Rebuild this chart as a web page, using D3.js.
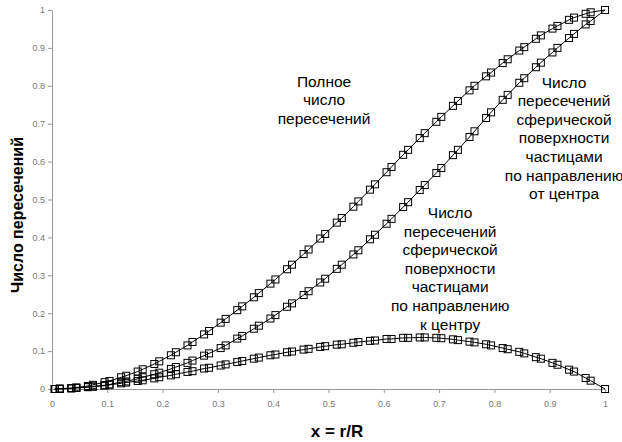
<!DOCTYPE html>
<html>
<head>
<meta charset="utf-8">
<script src="https://cdn.jsdelivr.net/npm/d3@7"></script>
<style>
  body { margin: 0; background: #fff; }
  text { font-family: Arial, "Liberation Sans", sans-serif; }
</style>
</head>
<body>
<svg id="chart" width="622" height="442"></svg>
<script>
// x = r/R, marker positions (two interleaved sample sets per curve)
const xValues = [
  0.005, 0.014, 0.035, 0.044, 0.065, 0.074, 0.095, 0.104, 0.125, 0.134,
  0.155, 0.164, 0.185, 0.194, 0.215, 0.224, 0.245, 0.254, 0.275, 0.284,
  0.305, 0.314, 0.335, 0.344, 0.365, 0.374, 0.395, 0.404, 0.425, 0.434,
  0.455, 0.464, 0.485, 0.494, 0.515, 0.524, 0.545, 0.554, 0.575, 0.584,
  0.605, 0.614, 0.635, 0.644, 0.665, 0.674, 0.695, 0.704, 0.725, 0.734,
  0.755, 0.764, 0.785, 0.794, 0.815, 0.824, 0.845, 0.854, 0.875, 0.884,
  0.905, 0.914, 0.935, 0.944, 0.965, 0.974, 1
];
// total number of crossings
const totalValues = [
  0.000, 0.000, 0.002, 0.004, 0.008, 0.011, 0.018, 0.021, 0.031, 0.035,
  0.046, 0.052, 0.066, 0.073, 0.089, 0.097, 0.115, 0.124, 0.144, 0.153,
  0.175, 0.185, 0.208, 0.218, 0.242, 0.253, 0.278, 0.289, 0.316, 0.328,
  0.356, 0.368, 0.397, 0.409, 0.439, 0.451, 0.481, 0.495, 0.526, 0.540,
  0.572, 0.586, 0.618, 0.631, 0.662, 0.675, 0.705, 0.718, 0.747, 0.760,
  0.788, 0.800, 0.825, 0.835, 0.860, 0.870, 0.893, 0.902, 0.924, 0.933,
  0.951, 0.958, 0.974, 0.980, 0.990, 0.994, 1
];
// crossings outward (away from centre)
const outwardValues = [
  0.000, 0.001, 0.002, 0.003, 0.005, 0.007, 0.010, 0.012, 0.018, 0.020,
  0.027, 0.031, 0.039, 0.043, 0.053, 0.058, 0.069, 0.075, 0.088, 0.094,
  0.108, 0.115, 0.133, 0.140, 0.159, 0.167, 0.186, 0.195, 0.217, 0.226,
  0.248, 0.258, 0.281, 0.291, 0.317, 0.328, 0.355, 0.366, 0.395, 0.407,
  0.436, 0.449, 0.480, 0.493, 0.525, 0.538, 0.570, 0.583, 0.617, 0.631,
  0.665, 0.680, 0.715, 0.730, 0.763, 0.776, 0.808, 0.820, 0.849, 0.861,
  0.888, 0.900, 0.926, 0.937, 0.962, 0.971, 1
];
// crossings inward (towards centre)
const inwardValues = [
  0.000, 0.001, 0.002, 0.003, 0.005, 0.006, 0.009, 0.011, 0.015, 0.017,
  0.021, 0.023, 0.028, 0.031, 0.036, 0.039, 0.045, 0.047, 0.054, 0.056,
  0.062, 0.065, 0.071, 0.074, 0.080, 0.083, 0.089, 0.091, 0.097, 0.099,
  0.104, 0.106, 0.111, 0.113, 0.117, 0.118, 0.122, 0.124, 0.127, 0.128,
  0.132, 0.132, 0.135, 0.135, 0.136, 0.136, 0.135, 0.134, 0.131, 0.129,
  0.125, 0.123, 0.118, 0.115, 0.108, 0.105, 0.098, 0.094, 0.084, 0.080,
  0.069, 0.064, 0.051, 0.046, 0.029, 0.022, 0
];

const xTicks = [0, 0.1, 0.2, 0.3, 0.4, 0.5, 0.6, 0.7, 0.8, 0.9, 1];
const yTicks = [0, 0.1, 0.2, 0.3, 0.4, 0.5, 0.6, 0.7, 0.8, 0.9, 1];

const xTitle = "x = r/R";
const yTitle = "Число пересечений";

const labelTotal = ["Полное", "число", "пересечений"];
const labelOutward = ["Число", "пересечений", "сферической", "поверхности", "частицами", "по направлению", "от центра"];
const labelInward = ["Число", "пересечений", "сферической", "поверхности", "частицами", "по направлению", "к центру"];

const svg = d3.select("#chart");
const x = d3.scaleLinear().domain([0, 1]).range([52, 605]);
const y = d3.scaleLinear().domain([0, 1]).range([389, 10]);

// axes
const xAxis = svg.append("g")
  .attr("transform", `translate(0,${y(0)})`)
  .call(d3.axisBottom(x).tickValues(xTicks).tickSize(4).tickSizeOuter(0)
    .tickPadding(8).tickFormat(d3.format("~g")));
const yAxis = svg.append("g")
  .attr("transform", `translate(${x(0)},0)`)
  .call(d3.axisLeft(y).tickValues(yTicks).tickSize(4).tickSizeOuter(0)
    .tickPadding(3).tickFormat(d3.format("~g")));

[xAxis, yAxis].forEach(a => {
  a.select(".domain").attr("stroke", "#999");
  a.selectAll(".tick line").attr("stroke", "#999");
  a.selectAll(".tick text")
    .attr("fill", "#777")
    .style("font-size", "9px")
    .style("font-family", "Arial, 'Liberation Sans', sans-serif");
});

svg.append("text")
  .attr("x", 337).attr("y", 437)
  .attr("text-anchor", "middle")
  .style("font-size", "17px").style("font-weight", "bold")
  .text(xTitle);

svg.append("text")
  .attr("transform", "translate(23,215) rotate(-90)")
  .attr("text-anchor", "middle")
  .style("font-size", "16px").style("font-weight", "bold")
  .text(yTitle);

// curves
const seriesList = [totalValues, outwardValues, inwardValues];
const line = d3.line().x(d => x(d[0])).y(d => y(d[1]));
const m = 3.5;

seriesList.forEach(vals => {
  const pts = xValues.map((v, i) => [v, vals[i]]);
  svg.append("path")
    .datum(pts)
    .attr("d", line)
    .attr("fill", "none")
    .attr("stroke", "#000")
    .attr("stroke-width", 1);
  svg.append("g")
    .selectAll("rect")
    .data(pts)
    .join("rect")
    .attr("x", d => x(d[0]) - m)
    .attr("y", d => y(d[1]) - m)
    .attr("width", 2 * m)
    .attr("height", 2 * m)
    .attr("fill", "none")
    .attr("stroke", "#000")
    .attr("stroke-width", 1);
});

// annotations
function addLabel(lines, cx, baseY) {
  svg.append("text")
    .attr("text-anchor", "middle")
    .style("font-size", "15.5px")
    .selectAll("tspan")
    .data(lines)
    .join("tspan")
    .attr("x", cx)
    .attr("y", (d, i) => baseY + i * 18.6)
    .text(d => d);
}
addLabel(labelTotal, x(0.492), y(0.798));
addLabel(labelOutward, x(0.926), y(0.795));
addLabel(labelInward, x(0.72), y(0.451));
</script>
</body>
</html>
